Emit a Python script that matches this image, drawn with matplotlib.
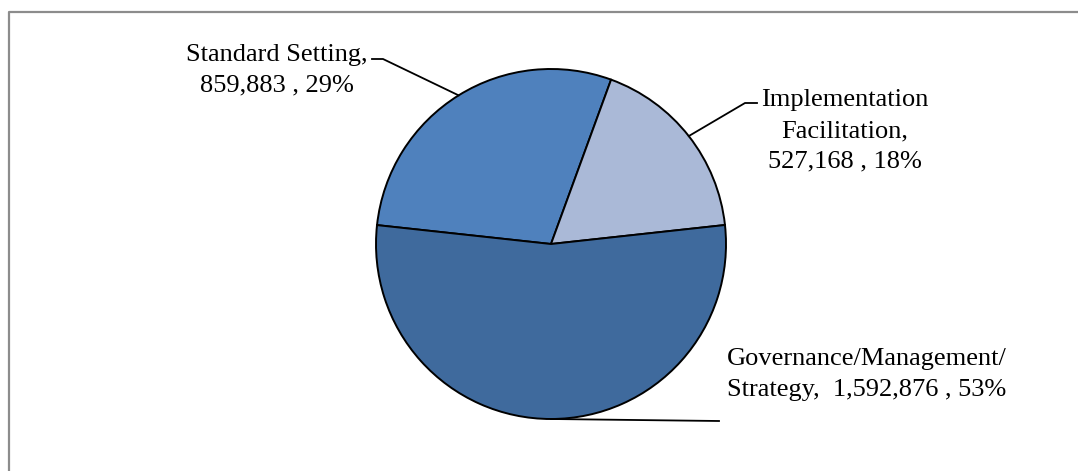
import matplotlib
matplotlib.use("Agg")
import matplotlib.pyplot as plt
import numpy as np

categories = ["Standard Setting", "Implementation\nFacilitation", "Governance/Management/\nStrategy"]
values = [859883, 527168, 1592876]
percents = ["29%", "18%", "53%"]
label_texts = ["Standard Setting,\n859,883 , 29%",
               "Implementation\nFacilitation,\n527,168 , 18%",
               "Governance/Management/\nStrategy,  1,592,876 , 53%"]
colors = ["#4F81BD", "#AAB9D7", "#3F6A9D"]

W, H = 1078, 471
fig = plt.figure(figsize=(W / 100, H / 100), dpi=100)
ax = fig.add_axes([0, 0, 1, 1])

# outer frame (only top and left visible in the reference)
ax.plot([8.5, 8.5, W + 5], [-5, H - 11.5, H - 11.5], color="#8C8C8C", lw=1.6,
        solid_capstyle="butt", clip_on=False)

cx, cy, R = 551, H - 244, 175
wedges, _ = ax.pie(values, colors=colors, startangle=173.8, counterclock=False,
                   center=(cx, cy), radius=R, frame=True,
                   wedgeprops=dict(edgecolor="black", linewidth=1.4))
ax.set_xlim(0, W)
ax.set_ylim(0, H)
ax.set_aspect("equal")
ax.axis("off")

font = dict(family="Liberation Serif", fontsize=19, color="black")
LS = 1.52

def edge_pt(w):
    a = np.deg2rad((w.theta1 + w.theta2) / 2)
    return cx + R * np.cos(a), cy + R * np.sin(a)

# Standard Setting
x0, y0 = edge_pt(wedges[0])
ax.plot([x0, 383, 372], [y0, H - 59, H - 59], color="black", lw=1.3)
ax.text(277, H - 70, label_texts[0], ha="center", va="center",
        linespacing=LS, **font)

# Implementation Facilitation
x0, y0 = edge_pt(wedges[1])
ax.plot([x0, 745, 757], [y0, H - 103, H - 103], color="black", lw=1.3)
ax.text(845, H - 131, label_texts[1], ha="center", va="center",
        linespacing=LS, **font)

# Governance
x0, y0 = edge_pt(wedges[2])
ax.plot([x0, 719], [y0, H - 421], color="black", lw=1.3)
ax.text(867, H - 374.5, label_texts[2], ha="center", va="center",
        linespacing=LS, **font)

fig.savefig("out.png", dpi=100, facecolor="white")
